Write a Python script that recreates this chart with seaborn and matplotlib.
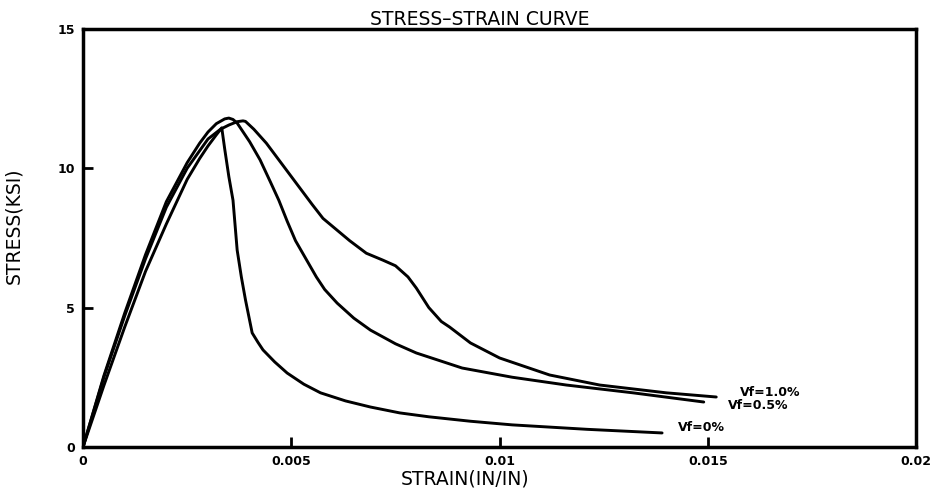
import numpy as np
import pandas as pd
import matplotlib
matplotlib.use("Agg")
import matplotlib.pyplot as plt
import seaborn as sns

# values
strain_vf0 = [0, 0.0005, 0.001, 0.0015, 0.002, 0.0025, 0.0028, 0.003, 0.0032, 0.00333,
              0.0034, 0.0035, 0.0036, 0.0037, 0.0038, 0.0039, 0.00406, 0.0042,
              0.00432, 0.0046, 0.0049, 0.0053, 0.0057, 0.0063, 0.0069, 0.0076,
              0.0083, 0.0093, 0.0103, 0.0121, 0.0139]
stress_vf0 = [0, 2.2, 4.3, 6.3, 8.0, 9.6, 10.35, 10.8, 11.2, 11.45,
              10.7, 9.7, 8.85, 7.06, 6.1, 5.27, 4.09, 3.75,
              3.48, 3.05, 2.65, 2.25, 1.94, 1.65, 1.43, 1.22,
              1.08, 0.92, 0.79, 0.63, 0.5]

strain_vf05 = [0, 0.0005, 0.001, 0.0015, 0.002, 0.0025, 0.0028, 0.003, 0.0032, 0.0034,
               0.0035, 0.0036, 0.0037, 0.004, 0.00425, 0.0045, 0.0047, 0.0049, 0.0051,
               0.0056, 0.0058, 0.0061, 0.0065, 0.0069, 0.0075, 0.008, 0.0091,
               0.0103, 0.0116, 0.0132, 0.0149]
stress_vf05 = [0, 2.55, 4.8, 6.9, 8.8, 10.2, 10.9, 11.3, 11.6, 11.77,
               11.8, 11.75, 11.62, 10.95, 10.3, 9.5, 8.85, 8.1, 7.4,
               6.1, 5.65, 5.16, 4.62, 4.19, 3.7, 3.37, 2.83,
               2.5, 2.22, 1.94, 1.61]

strain_vf10 = [0, 0.0005, 0.001, 0.0015, 0.002, 0.0025, 0.003, 0.0033, 0.0035, 0.0037,
               0.00384, 0.0039, 0.0041, 0.0044, 0.0048, 0.0052, 0.0055, 0.00576,
               0.006, 0.0064, 0.0068, 0.0072, 0.0075, 0.0078, 0.008, 0.0083,
               0.0086, 0.0088, 0.0093, 0.01, 0.0112, 0.0124, 0.014, 0.0152]
stress_vf10 = [0, 2.5, 4.7, 6.75, 8.6, 10.0, 11.05, 11.4, 11.55, 11.67,
               11.7, 11.68, 11.4, 10.9, 10.1, 9.3, 8.7, 8.2,
               7.9, 7.4, 6.95, 6.7, 6.5, 6.1, 5.7, 5.0,
               4.5, 4.3, 3.73, 3.19, 2.58, 2.22, 1.94, 1.79]

series_labels = ["Vf=0%", "Vf=0.5%", "Vf=1.0%"]
label_x = [0.01429, 0.01549, 0.01577]
label_y = [0.68, 1.5, 1.94]
x_ticks = [0, 0.005, 0.01, 0.015, 0.02]
x_tick_labels = ["0", "0.005", "0.01", "0.015", "0.02"]
y_ticks = [0, 5, 10, 15]

frames = []
for lab, xs, ys in zip(series_labels,
                       [strain_vf0, strain_vf05, strain_vf10],
                       [stress_vf0, stress_vf05, stress_vf10]):
    frames.append(pd.DataFrame({"strain": xs, "stress": ys, "series": lab}))
df = pd.concat(frames, ignore_index=True)

sns.set_style("white")
plt.rcParams["font.family"] = ["DejaVu Sans"]
plt.rcParams["text.color"] = "black"

fig = plt.figure(figsize=(9.33, 4.9), dpi=100)
ax = fig.add_axes([0.089, 0.088, 0.893, 0.853])

sns.lineplot(data=df, x="strain", y="stress", units="series", estimator=None,
             sort=False, color="black", linewidth=2.1, ax=ax)

ax.set_xlim(0, 0.02)
ax.set_ylim(0, 15)
ax.set_xticks(x_ticks)
ax.set_xticklabels(x_tick_labels, fontsize=9, fontweight="bold")
ax.set_yticks(y_ticks)
ax.set_yticklabels([str(v) for v in y_ticks], fontsize=9, fontweight="bold")
ax.tick_params(direction="in", length=7, width=2, pad=6, colors="black",
               bottom=True, left=True, top=False, right=False)
for sp in ax.spines.values():
    sp.set_linewidth(2.5)
    sp.set_color("black")

ax.set_xlabel("STRAIN(IN/IN)", fontsize=13.5, color="black")
ax.xaxis.set_label_coords(0.459, -0.055)
ax.set_ylabel("STRESS(KSI)", fontsize=13.5, color="black")
ax.yaxis.set_label_coords(-0.072, 0.53)
ax.set_title("STRESS\u2013STRAIN CURVE", fontsize=13.5, pad=3, x=0.476, color="black")

# curve end labels
for lab, lx, ly in zip(series_labels, label_x, label_y):
    ax.text(lx, ly, lab, fontsize=9, fontweight="bold", va="center", ha="left")

fig.savefig("out.png", dpi=100)
